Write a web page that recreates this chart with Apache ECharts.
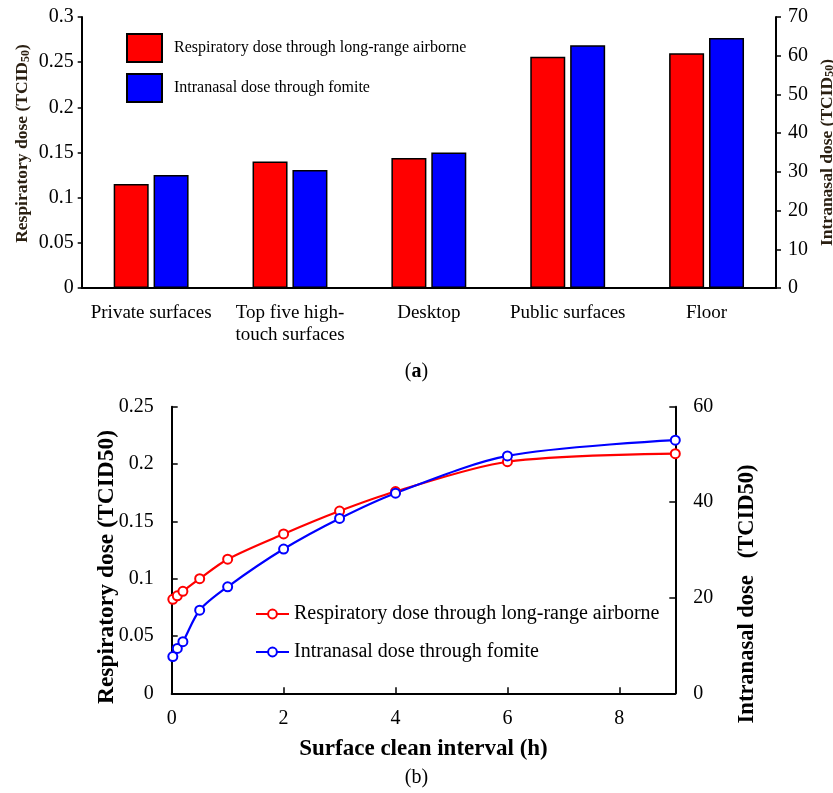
<!DOCTYPE html>
<html>
<head>
<meta charset="utf-8">
<script src="https://cdn.jsdelivr.net/npm/echarts@6/dist/echarts.min.js"></script>
<style>html,body{margin:0;padding:0;background:#fff;}#c{width:833px;height:793px;}</style>
</head>
<body>
<div id="c"></div>
<script>
// ---- Data: chart (a) ----
const categories = ['Private surfaces', 'Top five high-\ntouch surfaces', 'Desktop', 'Public surfaces', 'Floor'];
const respiratoryBar = [0.115, 0.140, 0.144, 0.256, 0.260];
const intranasalBar = [29.2, 30.5, 35.0, 62.7, 64.6];

// ---- Data: chart (b) ----
const cleanInterval = [0.02, 0.1, 0.2, 0.5, 1, 2, 3, 4, 6, 9];
const respiratoryLine = [0.082, 0.085, 0.089, 0.100, 0.117, 0.139, 0.159, 0.176, 0.202, 0.209];
const intranasalLine = [7.7, 9.4, 10.8, 17.4, 22.3, 30.2, 36.6, 41.9, 49.7, 53.0];

const nameResp = 'Respiratory dose through long-range airborne';
const nameNasal = 'Intranasal dose through fomite';

const serif = 'Liberation Serif';
const titleColor = '#2b2012';
const axisLineStyle = {color: '#000', width: 2};

const chart = echarts.init(document.getElementById('c'));
chart.setOption({
  animation: false,
  backgroundColor: '#fff',
  textStyle: {fontFamily: serif},
  title: [
    {text: '({b|a})', left: 'center', top: 357,
     textStyle: {fontFamily: serif, fontSize: 20, color: '#000', fontWeight: 'normal',
       rich: {b: {fontFamily: serif, fontSize: 20, fontWeight: 'bold', color: '#000'}}}},
    {text: '(b)', left: 'center', top: 763,
     textStyle: {fontFamily: serif, fontSize: 20, color: '#000', fontWeight: 'normal'}}
  ],
  legend: [
    {orient: 'vertical', left: 126, top: 33, padding: 0, itemWidth: 35, itemHeight: 28, itemGap: 10,
     icon: 'rect',
     data: [nameResp, nameNasal],
     textStyle: {fontFamily: serif, fontSize: 16, color: '#000', padding: [0, 0, 0, 7]}},
    {orient: 'vertical', left: 255, top: 604, padding: 0, itemWidth: 33, itemHeight: 11, itemGap: 18,
     data: [nameResp + ' ', nameNasal + ' '],
     formatter: n => n.trim(),
     textStyle: {fontFamily: serif, fontSize: 20, color: '#000'}}
  ],
  grid: [
    {left: 81.7, right: 57, top: 17, height: 271, outerBoundsMode: 'none', containLabel: false},
    {left: 171.7, right: 157.7, top: 406.7, height: 286.6, outerBoundsMode: 'none', containLabel: false}
  ],
  xAxis: [
    {type: 'category', gridIndex: 0, data: categories,
     axisLine: {lineStyle: axisLineStyle},
     axisTick: {inside: true, length: 5, lineStyle: {color: '#000', width: 1.5}},
     axisLabel: {interval: 0, fontFamily: serif, fontSize: 19, color: '#000', margin: 14, lineHeight: 22}},
    {type: 'value', gridIndex: 1, min: 0, max: 9, interval: 2,
     name: 'Surface clean interval (h)', nameLocation: 'middle', nameGap: 44, nameMoveOverlap: false,
     nameTextStyle: {fontFamily: serif, fontSize: 23, fontWeight: 'bold', color: '#000'},
     splitLine: {show: false},
     axisLine: {lineStyle: axisLineStyle},
     axisTick: {inside: true, length: 6, lineStyle: {color: '#000', width: 1.5}},
     axisLabel: {fontFamily: serif, fontSize: 20, color: '#000', margin: 15, showMaxLabel: false}}
  ],
  yAxis: [
    {type: 'value', gridIndex: 0, min: 0, max: 0.3, interval: 0.05, position: 'left',
     name: '{t|Respiratory dose (TCID}{s|50}{t|)}', nameLocation: 'middle', nameGap: 50, nameMoveOverlap: false,
     nameTextStyle: {padding: [0, 0, 0, 18], rich: {
       t: {fontFamily: serif, fontSize: 17.5, fontWeight: 'bold', color: titleColor},
       s: {fontFamily: serif, fontSize: 12, fontWeight: 'bold', color: titleColor, padding: [6, 0, 0, 0]}}},
     splitLine: {show: false},
     axisLine: {show: true, lineStyle: axisLineStyle},
     axisTick: {show: true, length: 4, lineStyle: {color: '#000', width: 1.5}},
     axisLabel: {fontFamily: serif, fontSize: 20, color: '#000', margin: 8}},
    {type: 'value', gridIndex: 0, min: 0, max: 70, interval: 10, position: 'right',
     name: '{t|Intranasal dose (TCID}{s|50}{t|)}', nameLocation: 'middle', nameGap: 42, nameMoveOverlap: false,
     nameTextStyle: {rich: {
       t: {fontFamily: serif, fontSize: 17.5, fontWeight: 'bold', color: titleColor},
       s: {fontFamily: serif, fontSize: 12, fontWeight: 'bold', color: titleColor, padding: [6, 0, 0, 0]}}},
     splitLine: {show: false},
     axisLine: {show: true, lineStyle: axisLineStyle},
     axisTick: {show: true, length: 5, lineStyle: {color: '#000', width: 1.5}},
     axisLabel: {fontFamily: serif, fontSize: 20, color: '#000', margin: 12}},
    {type: 'value', gridIndex: 1, min: 0, max: 0.25, interval: 0.05, position: 'left',
     name: 'Respiratory dose (TCID50)', nameLocation: 'middle', nameGap: 53, nameMoveOverlap: false,
     nameTextStyle: {fontFamily: serif, fontSize: 23.5, fontWeight: 'bold', color: '#000', padding: [0, 34, 0, 0]},
     splitLine: {show: false},
     axisLine: {show: true, lineStyle: axisLineStyle},
     axisTick: {show: true, inside: true, length: 6, lineStyle: {color: '#000', width: 1.5}},
     axisLabel: {fontFamily: serif, fontSize: 20, color: '#000', margin: 18}},
    {type: 'value', gridIndex: 1, min: 0, max: 60, interval: 20, position: 'right',
     name: 'Intranasal dose   (TCID50)', nameLocation: 'middle', nameGap: 60, nameMoveOverlap: false,
     nameTextStyle: {fontFamily: serif, fontSize: 22.5, fontWeight: 'bold', color: '#000', padding: [0, 88, 0, 0]},
     splitLine: {show: false},
     axisLine: {show: true, lineStyle: axisLineStyle},
     axisTick: {show: true, inside: true, length: 6, lineStyle: {color: '#000', width: 1.5}},
     axisLabel: {fontFamily: serif, fontSize: 20, color: '#000', margin: 18}}
  ],
  series: [
    {name: nameResp, type: 'bar', xAxisIndex: 0, yAxisIndex: 0, data: respiratoryBar,
     barWidth: 35, barGap: '14%',
     itemStyle: {color: '#ff0000', borderColor: '#000', borderWidth: 1.5}},
    {name: nameNasal, type: 'bar', xAxisIndex: 0, yAxisIndex: 1, data: intranasalBar,
     barWidth: 35, barGap: '14%',
     itemStyle: {color: '#0000ff', borderColor: '#000', borderWidth: 1.5}},
    {name: nameResp + ' ', type: 'line', xAxisIndex: 1, yAxisIndex: 2,
     data: cleanInterval.map((x, i) => [x, respiratoryLine[i]]),
     smooth: 0.3, symbol: 'emptyCircle', symbolSize: 9,
     lineStyle: {color: '#ff0000', width: 2.2},
     itemStyle: {color: '#ff0000', borderWidth: 2}},
    {name: nameNasal + ' ', type: 'line', xAxisIndex: 1, yAxisIndex: 3,
     data: cleanInterval.map((x, i) => [x, intranasalLine[i]]),
     smooth: 0.3, symbol: 'emptyCircle', symbolSize: 9,
     lineStyle: {color: '#0000ff', width: 2.2},
     itemStyle: {color: '#0000ff', borderWidth: 2}}
  ]
});
</script>
</body>
</html>
